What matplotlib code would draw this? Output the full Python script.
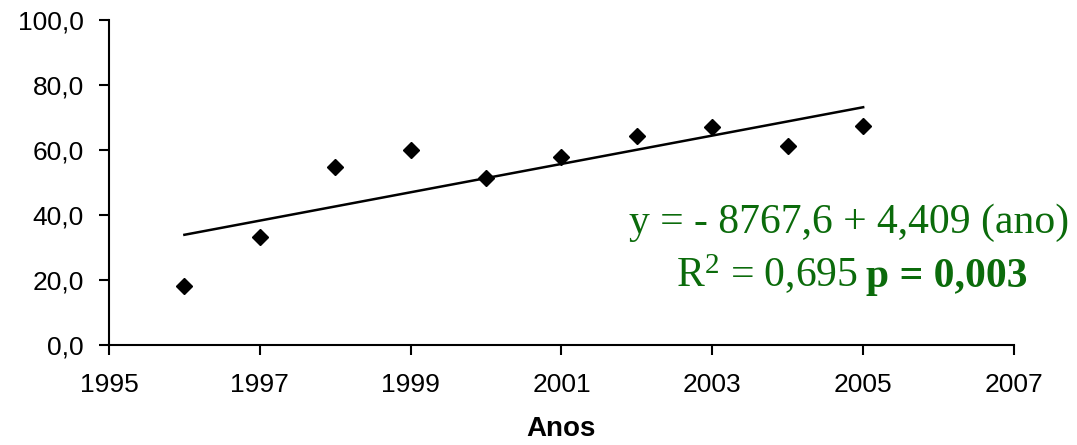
import numpy as np
import matplotlib.pyplot as plt
from matplotlib.ticker import FuncFormatter

anos = [1996, 1997, 1998, 1999, 2000, 2001, 2002, 2003, 2004, 2005]
valores = [18.2, 33.2, 54.8, 60.0, 51.4, 57.8, 64.3, 67.1, 61.2, 67.4]
xticks = [1995, 1997, 1999, 2001, 2003, 2005, 2007]
yticks = [0, 20, 40, 60, 80, 100]

verde = '#0b6b0b'

plt.rcParams['mathtext.fontset'] = 'custom'
plt.rcParams['mathtext.rm'] = 'Liberation Serif'
plt.rcParams['mathtext.it'] = 'Liberation Serif:italic'
plt.rcParams['mathtext.bf'] = 'Liberation Serif:bold'

fig = plt.figure(figsize=(10.77, 4.45), dpi=100)
ax = fig.add_axes([0.1012, 0.2247, 0.8403, 0.7303])

x = np.array(anos)
y = np.array(valores)
coef = np.polyfit(x, y, 1)
ax.plot(x, np.polyval(coef, x), color='black', linewidth=1.8, zorder=2)
ax.plot(x, y, linestyle='none', marker='D', markersize=8.5,
	color='black', zorder=3)

ax.set_xlim(1995, 2007)
ax.set_ylim(0, 100)
ax.set_xticks(xticks)
ax.set_yticks(yticks)
ax.yaxis.set_major_formatter(FuncFormatter(lambda v, p: f"{v:.1f}".replace('.', ',')))

for s in ['top', 'right']:
	ax.spines[s].set_visible(False)
for s in ['left', 'bottom']:
	ax.spines[s].set_linewidth(1.5)
ax.tick_params(axis='both', direction='out', length=7, width=1.5,
	labelsize=19, colors='black')
ax.tick_params(axis='y', pad=11)
ax.tick_params(axis='x', pad=13)
for lab in ax.get_xticklabels() + ax.get_yticklabels():
	lab.set_fontfamily('Liberation Sans')

ax.set_xlabel("Anos", fontsize=20, fontweight='bold',
	fontfamily='Liberation Sans', labelpad=14)

# equacao da reta
fig.text(0.788, 0.476, "y = - 8767,6 + 4,409 (ano)", color=verde,
	fontsize=30, fontfamily='Liberation Serif', ha='center', va='baseline')
fig.text(0.7965, 0.355, r"R$^{\mathrm{2}}$ = 0,695", color=verde,
	fontsize=30, fontfamily='Liberation Serif', ha='right', va='baseline')
fig.text(0.8045, 0.355, "p = 0,003", color=verde, fontweight='bold',
	fontsize=30, fontfamily='Liberation Serif', ha='left', va='baseline')

fig.savefig('out.png', dpi=100)
